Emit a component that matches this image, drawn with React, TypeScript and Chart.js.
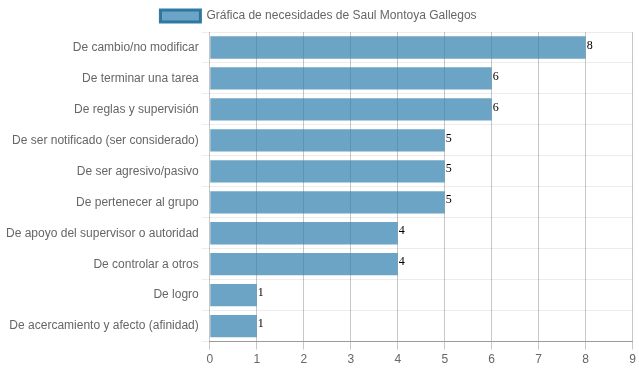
import React, { useEffect, useRef } from "react";
import { Chart, registerables } from "chart.js";

Chart.register(...registerables);

const categories = [
  "De cambio/no modificar",
  "De terminar una tarea",
  "De reglas y supervisión",
  "De ser notificado (ser considerado)",
  "De ser agresivo/pasivo",
  "De pertenecer al grupo",
  "De apoyo del supervisor o autoridad",
  "De controlar a otros",
  "De logro",
  "De acercamiento y afecto (afinidad)",
];
const values = [8, 6, 6, 5, 5, 5, 4, 4, 1, 1];
const seriesLabel = "Gráfica de necesidades de Saul Montoya Gallegos";

const valueLabels = {
  id: "valueLabels",
  afterDatasetsDraw(chart: any) {
    const ctx = chart.ctx;
    const meta = chart.getDatasetMeta(0);
    ctx.save();
    ctx.font = "12px 'Liberation Serif', serif";
    ctx.fillStyle = "#000";
    ctx.textAlign = "left";
    ctx.textBaseline = "middle";
    meta.data.forEach((bar: any, i: number) => {
      ctx.fillText(String(chart.data.datasets[0].data[i]), bar.x + 1, bar.y - 2);
    });
    ctx.restore();
  },
};

export default function App() {
  const ref = useRef<HTMLCanvasElement>(null);
  useEffect(() => {
    if (!ref.current) return;
    const chart = new Chart(ref.current, {
      type: "bar",
      data: {
        labels: categories,
        datasets: [
          {
            label: seriesLabel,
            data: values,
            backgroundColor: "rgba(45,125,172,0.7)",
            borderColor: "rgba(45,125,172,0.7)",
            borderWidth: 0,
          },
        ],
      },
      options: {
        indexAxis: "y",
        animation: false,
        responsive: true,
        maintainAspectRatio: false,
        layout: { padding: { left: 3, right: 5, bottom: 2 } },
        plugins: {
          legend: {
            labels: {
              padding: 10,
              font: { family: "'Liberation Sans', Arial, sans-serif", size: 12 },
              color: "#666",
              generateLabels: () => [
                {
                  text: seriesLabel,
                  fillStyle: "rgba(45,125,172,0.7)",
                  strokeStyle: "rgba(40,115,160,0.95)",
                  lineWidth: 3,
                  datasetIndex: 0,
                  hidden: false,
                  fontColor: "#666",
                },
              ],
            },
          },
          tooltip: { enabled: false },
        },
        scales: {
          x: {
            min: 0,
            max: 9,
            ticks: {
              stepSize: 1,
              color: "#666",
              font: { family: "'Liberation Sans', Arial, sans-serif", size: 12 },
            },
            grid: { color: "rgba(0,0,0,0.22)" },
            border: { color: "rgba(0,0,0,0.35)" },
          },
          y: {
            ticks: {
              color: "#666",
              font: { family: "'Liberation Sans', Arial, sans-serif", size: 12 },
            },
            grid: { color: "rgba(0,0,0,0.07)", offset: true },
            border: { display: false },
          },
        },
      },
      plugins: [valueLabels],
    });
    return () => chart.destroy();
  }, []);
  return (
    <div style={{ position: "absolute", left: 0, top: 0, width: 639, height: 372 }}>
      <canvas ref={ref} />
    </div>
  );
}
